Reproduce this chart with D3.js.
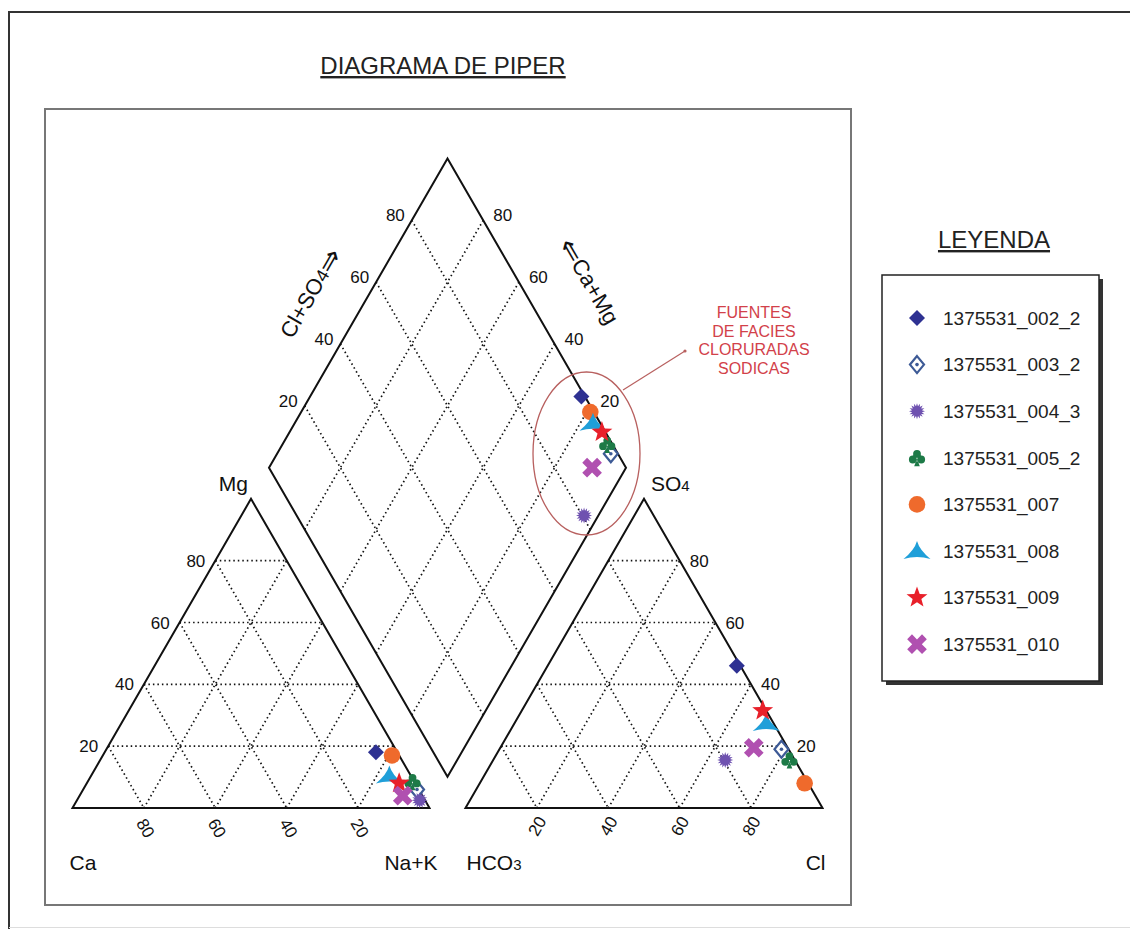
<!DOCTYPE html>
<html>
<head>
<meta charset="utf-8">
<script src="https://cdn.jsdelivr.net/npm/d3@7"></script>
<style>
    body { margin: 0; background: #fff; }
    svg { display: block; font-family: "Liberation Sans", Arial, sans-serif; }
</style>
</head>
<body>
<div id="chart"></div>
<script>
// Sample names and their ionic percentages (meq %)
const samples = ['1375531_002_2', '1375531_003_2', '1375531_004_3', '1375531_005_2',
                 '1375531_007', '1375531_008', '1375531_009', '1375531_010'];
const ca   = [6, 0.5, 1.5, 0.5, 2, 6, 4.5, 5.5];
const mg   = [18, 6, 2.5, 8.5, 17, 10.5, 8, 4];
const naK  = [76, 93.5, 96, 91, 81, 83.5, 87.5, 90.5];
const hco3 = [1, 2, 19.5, 1.5, 1, 2, 1, 9.5];
const so4  = [46, 19, 15.5, 15.5, 8, 27.5, 31.5, 19.5];
const cl   = [53, 79, 65, 83, 91, 70.5, 67.5, 71];

const ticks = [20, 40, 60, 80];
const noteLines = ['FUENTES', 'DE FACIES', 'CLORURADAS', 'SODICAS'];

// marker style for each sample, same order as samples
const shapes = ['diamond', 'diamondOpen', 'burst', 'club', 'circle', 'delta', 'star', 'cross'];
const colors = ['#2e3192', '#3d5a96', '#6f52b0', '#1d7a47', '#ef6a2c', '#1f9fd9', '#e8202a', '#b050b0'];

const W = 1130, H = 929;
const svg = d3.select('#chart').append('svg')
    .attr('width', W)
    .attr('height', H);

// Frames
svg.append('path')
    .attr('d', 'M9,929 L9,12 L1130,12')
    .attr('fill', 'none')
    .attr('stroke', '#333')
    .attr('stroke-width', 2);
svg.append('line')
    .attr('x1', 9).attr('x2', 1130).attr('y1', 927.5).attr('y2', 927.5)
    .attr('stroke', '#ddd');
svg.append('rect')
    .attr('x', 45).attr('y', 109).attr('width', 806).attr('height', 796)
    .attr('fill', 'none')
    .attr('stroke', '#777')
    .attr('stroke-width', 2);

// Title
svg.append('text')
    .attr('x', 443).attr('y', 74)
    .attr('text-anchor', 'middle')
    .attr('font-size', 24)
    .attr('fill', '#222')
    .attr('text-decoration', 'underline')
    .text('DIAGRAMA DE PIPER');

// Geometry
const side = 357, gap = 36;
const x0 = 72.5, y0 = 808;
const h = Math.sqrt(3) / 2;
const s = d3.scaleLinear().domain([0, 100]).range([0, side]);   // percent -> px along a side

// cation triangle: Ca left corner, Na+K right corner, Mg apex
const cat = (c, m, n) => [x0 + s(n) + s(m) / 2, y0 - s(m) * h];
// anion triangle: HCO3 left corner, Cl right corner, SO4 apex
const ax0 = x0 + side + gap;
const an = (b, so, c) => [ax0 + s(c) + s(so) / 2, y0 - s(so) * h];
// diamond: bottom vertex between triangles
const bx = x0 + side + gap / 2, by = y0 - gap * h;
const dia = (nk, cs) => [bx + (s(cs) - s(100 - nk)) / 2, by - (s(cs) + s(100 - nk)) * h];

const line = d3.line();
const plot = svg.append('g');

// Dotted grid
const gridSegs = [];
ticks.forEach(k => {
    gridSegs.push([cat(100 - k, k, 0), cat(0, k, 100 - k)]);
    gridSegs.push([cat(k, 100 - k, 0), cat(k, 0, 100 - k)]);
    gridSegs.push([cat(100 - k, 0, k), cat(0, 100 - k, k)]);
    gridSegs.push([an(100 - k, k, 0), an(0, k, 100 - k)]);
    gridSegs.push([an(k, 100 - k, 0), an(k, 0, 100 - k)]);
    gridSegs.push([an(100 - k, 0, k), an(0, 100 - k, k)]);
    gridSegs.push([dia(k, 0), dia(k, 100)]);
    gridSegs.push([dia(0, k), dia(100, k)]);
});
plot.selectAll('.grid')
    .data(gridSegs)
    .join('path')
    .attr('class', 'grid')
    .attr('d', d => line(d))
    .attr('fill', 'none')
    .attr('stroke', '#111')
    .attr('stroke-width', 1.7)
    .attr('stroke-dasharray', '1.5,3');

// Outlines
const outlines = [
    [cat(100, 0, 0), cat(0, 0, 100), cat(0, 100, 0)],
    [an(100, 0, 0), an(0, 0, 100), an(0, 100, 0)],
    [dia(100, 0), dia(100, 100), dia(0, 100), dia(0, 0)]
];
plot.selectAll('.outline')
    .data(outlines)
    .join('path')
    .attr('class', 'outline')
    .attr('d', d => line(d) + 'Z')
    .attr('fill', 'none')
    .attr('stroke', '#111')
    .attr('stroke-width', 2)
    .attr('stroke-linejoin', 'miter');

// Tick labels
const tickLabel = (x, y, txt, anchor, rot) => {
    const t = plot.append('text')
        .attr('font-size', 17)
        .attr('fill', '#111')
        .attr('text-anchor', anchor)
        .attr('dy', '0.36em')
        .text(txt);
    if (rot) t.attr('transform', `translate(${x},${y}) rotate(${rot})`);
    else t.attr('x', x).attr('y', y);
};
ticks.forEach(k => {
    let p = cat(100 - k, k, 0);
    tickLabel(p[0] - 10, p[1], k, 'end');
    p = cat(k, 0, 100 - k);
    tickLabel(p[0] + 2, p[1] + 20, k, 'middle', 60);
    p = an(0, k, 100 - k);
    tickLabel(p[0] + 10, p[1], k, 'start');
    p = an(100 - k, 0, k);
    tickLabel(p[0], p[1] + 18, k, 'middle', -60);
    p = dia(0, k);
    tickLabel(p[0] - 7, p[1] - 5, k, 'end');
    p = dia(100 - k, 100);
    tickLabel(p[0] + 10, p[1] - 5, k, 'start');
});

// Corner labels
const cornerLabel = (x, y, txt, sub, anchor) => {
    const t = plot.append('text')
        .attr('x', x).attr('y', y)
        .attr('font-size', 21)
        .attr('fill', '#111')
        .attr('text-anchor', anchor);
    t.append('tspan').text(txt);
    if (sub) t.append('tspan').attr('font-size', 15).text(sub);
};
cornerLabel(x0 - 3, 870, 'Ca', null, 'start');
cornerLabel(x0 + side + 8, 870, 'Na+K', null, 'end');
cornerLabel(ax0 + 1, 870, 'HCO', '3', 'start');
cornerLabel(ax0 + side + 3, 870, 'Cl', null, 'end');
cornerLabel(cat(0, 100, 0)[0] - 3, 491, 'Mg', null, 'end');
cornerLabel(an(0, 100, 0)[0] + 7, 491, 'SO', '4', 'start');

// Diamond side titles
const ul = dia(0, 50), ur = dia(50, 100);
const t1 = plot.append('text')
    .attr('transform', `translate(${ul[0] - 48},${ul[1] - 20}) rotate(-60)`)
    .attr('text-anchor', 'middle')
    .attr('dy', '0.35em')
    .attr('font-size', 22)
    .attr('fill', '#111');
t1.append('tspan').text('Cl+SO');
t1.append('tspan').attr('font-size', 18).text('4');
t1.append('tspan').attr('font-family', 'DejaVu Sans').attr('font-size', 28).attr('dy', 2).text('⇒');
const t2 = plot.append('text')
    .attr('transform', `translate(${ur[0] + 46},${ur[1] - 28}) rotate(60)`)
    .attr('text-anchor', 'middle')
    .attr('dy', '0.35em')
    .attr('font-size', 22)
    .attr('fill', '#111');
t2.append('tspan').attr('font-family', 'DejaVu Sans').attr('font-size', 28).attr('dy', 2).text('⇐');
t2.append('tspan').attr('dy', -2).text('Ca+Mg');

// Marker shapes
function starPath(n, R, r) {
    const pts = [];
    for (let i = 0; i < 2 * n; i++) {
        const a = -Math.PI / 2 + i * Math.PI / n;
        const rr = i % 2 ? r : R;
        pts.push([rr * Math.cos(a), rr * Math.sin(a)]);
    }
    return 'M' + pts.map(p => p[0].toFixed(2) + ',' + p[1].toFixed(2)).join('L') + 'Z';
}
function circ(cx, cy, r) {
    return `M${cx + r},${cy}a${r},${r} 0 1,0 ${-2 * r},0a${r},${r} 0 1,0 ${2 * r},0Z`;
}
function crossPath(L, w) {
    const base = [[-w, -L], [w, -L], [w, -w], [L, -w], [L, w], [w, w], [w, L], [-w, L], [-w, w], [-L, w], [-L, -w], [-w, -w]];
    const c = Math.SQRT1_2;
    return 'M' + base.map(([x, y]) => ((x - y) * c).toFixed(2) + ',' + ((x + y) * c).toFixed(2)).join('L') + 'Z';
}
const shapePaths = {
    diamond: 'M0,-8L8,0L0,8L-8,0Z',
    diamondOpen: 'M0,-8.5L7,0L0,8.5L-7,0Z',
    burst: starPath(16, 8, 5),
    club: circ(0, -3.9, 3.9) + circ(-4.2, 1.7, 3.9) + circ(4.2, 1.7, 3.9) + 'M0,1L2.8,8.5L-2.8,8.5Z',
    circle: circ(0, 0, 8.3),
    delta: 'M0,-10Q2.5,-1 13.5,8Q0,4 -13.5,8Q-2.5,-1 0,-10Z',
    star: starPath(5, 11, 4.6),
    cross: crossPath(10.5, 3.4)
};
function drawMarker(g, i, x, y) {
    const m = g.append('g').attr('transform', `translate(${x},${y})`);
    if (shapes[i] === 'diamondOpen') {
        m.append('path').attr('d', shapePaths.diamondOpen)
            .attr('fill', '#fff').attr('stroke', colors[i]).attr('stroke-width', 2.2);
        m.append('circle').attr('r', 1.8).attr('fill', colors[i]);
    } else {
        m.append('path').attr('d', shapePaths[shapes[i]]).attr('fill', colors[i]);
    }
}

// Points
const pts = plot.append('g');
samples.forEach((name, i) => {
    const pc = cat(ca[i], mg[i], naK[i]);
    const pa = an(hco3[i], so4[i], cl[i]);
    const pd = dia(naK[i], so4[i] + cl[i]);
    drawMarker(pts, i, pc[0], pc[1]);
    drawMarker(pts, i, pa[0], pa[1]);
    drawMarker(pts, i, pd[0], pd[1]);
});

// Annotation
const note = svg.append('g');
note.append('ellipse')
    .attr('cx', 586.5).attr('cy', 453.5)
    .attr('rx', 53.5).attr('ry', 81.5)
    .attr('fill', 'none')
    .attr('stroke', '#b8605f')
    .attr('stroke-width', 1.3);
note.append('line')
    .attr('x1', 623).attr('y1', 390)
    .attr('x2', 685).attr('y2', 351)
    .attr('stroke', '#b8605f')
    .attr('stroke-width', 1.2);
note.append('circle')
    .attr('cx', 685).attr('cy', 351).attr('r', 1.6)
    .attr('fill', '#b8605f');
note.selectAll('.note')
    .data(noteLines)
    .join('text')
    .attr('class', 'note')
    .attr('x', 754)
    .attr('y', (d, i) => 318 + i * 18.5)
    .attr('text-anchor', 'middle')
    .attr('font-size', 16)
    .attr('fill', '#d2414a')
    .text(d => d);

// Legend
svg.append('text')
    .attr('x', 994).attr('y', 248)
    .attr('text-anchor', 'middle')
    .attr('font-size', 24)
    .attr('fill', '#222')
    .attr('text-decoration', 'underline')
    .text('LEYENDA');
svg.append('rect')
    .attr('x', 886).attr('y', 279).attr('width', 217).attr('height', 406)
    .attr('fill', '#333');
svg.append('rect')
    .attr('x', 882).attr('y', 275).attr('width', 217).attr('height', 406)
    .attr('fill', '#fff')
    .attr('stroke', '#222')
    .attr('stroke-width', 1.5);
const leg = svg.append('g');
samples.forEach((name, i) => {
    const y = 318 + i * 46.6;
    drawMarker(leg, i, 917, y);
    leg.append('text')
        .attr('x', 943).attr('y', y)
        .attr('dy', '0.36em')
        .attr('font-size', 19)
        .attr('fill', '#222')
        .text(name);
});
</script>
</body>
</html>
